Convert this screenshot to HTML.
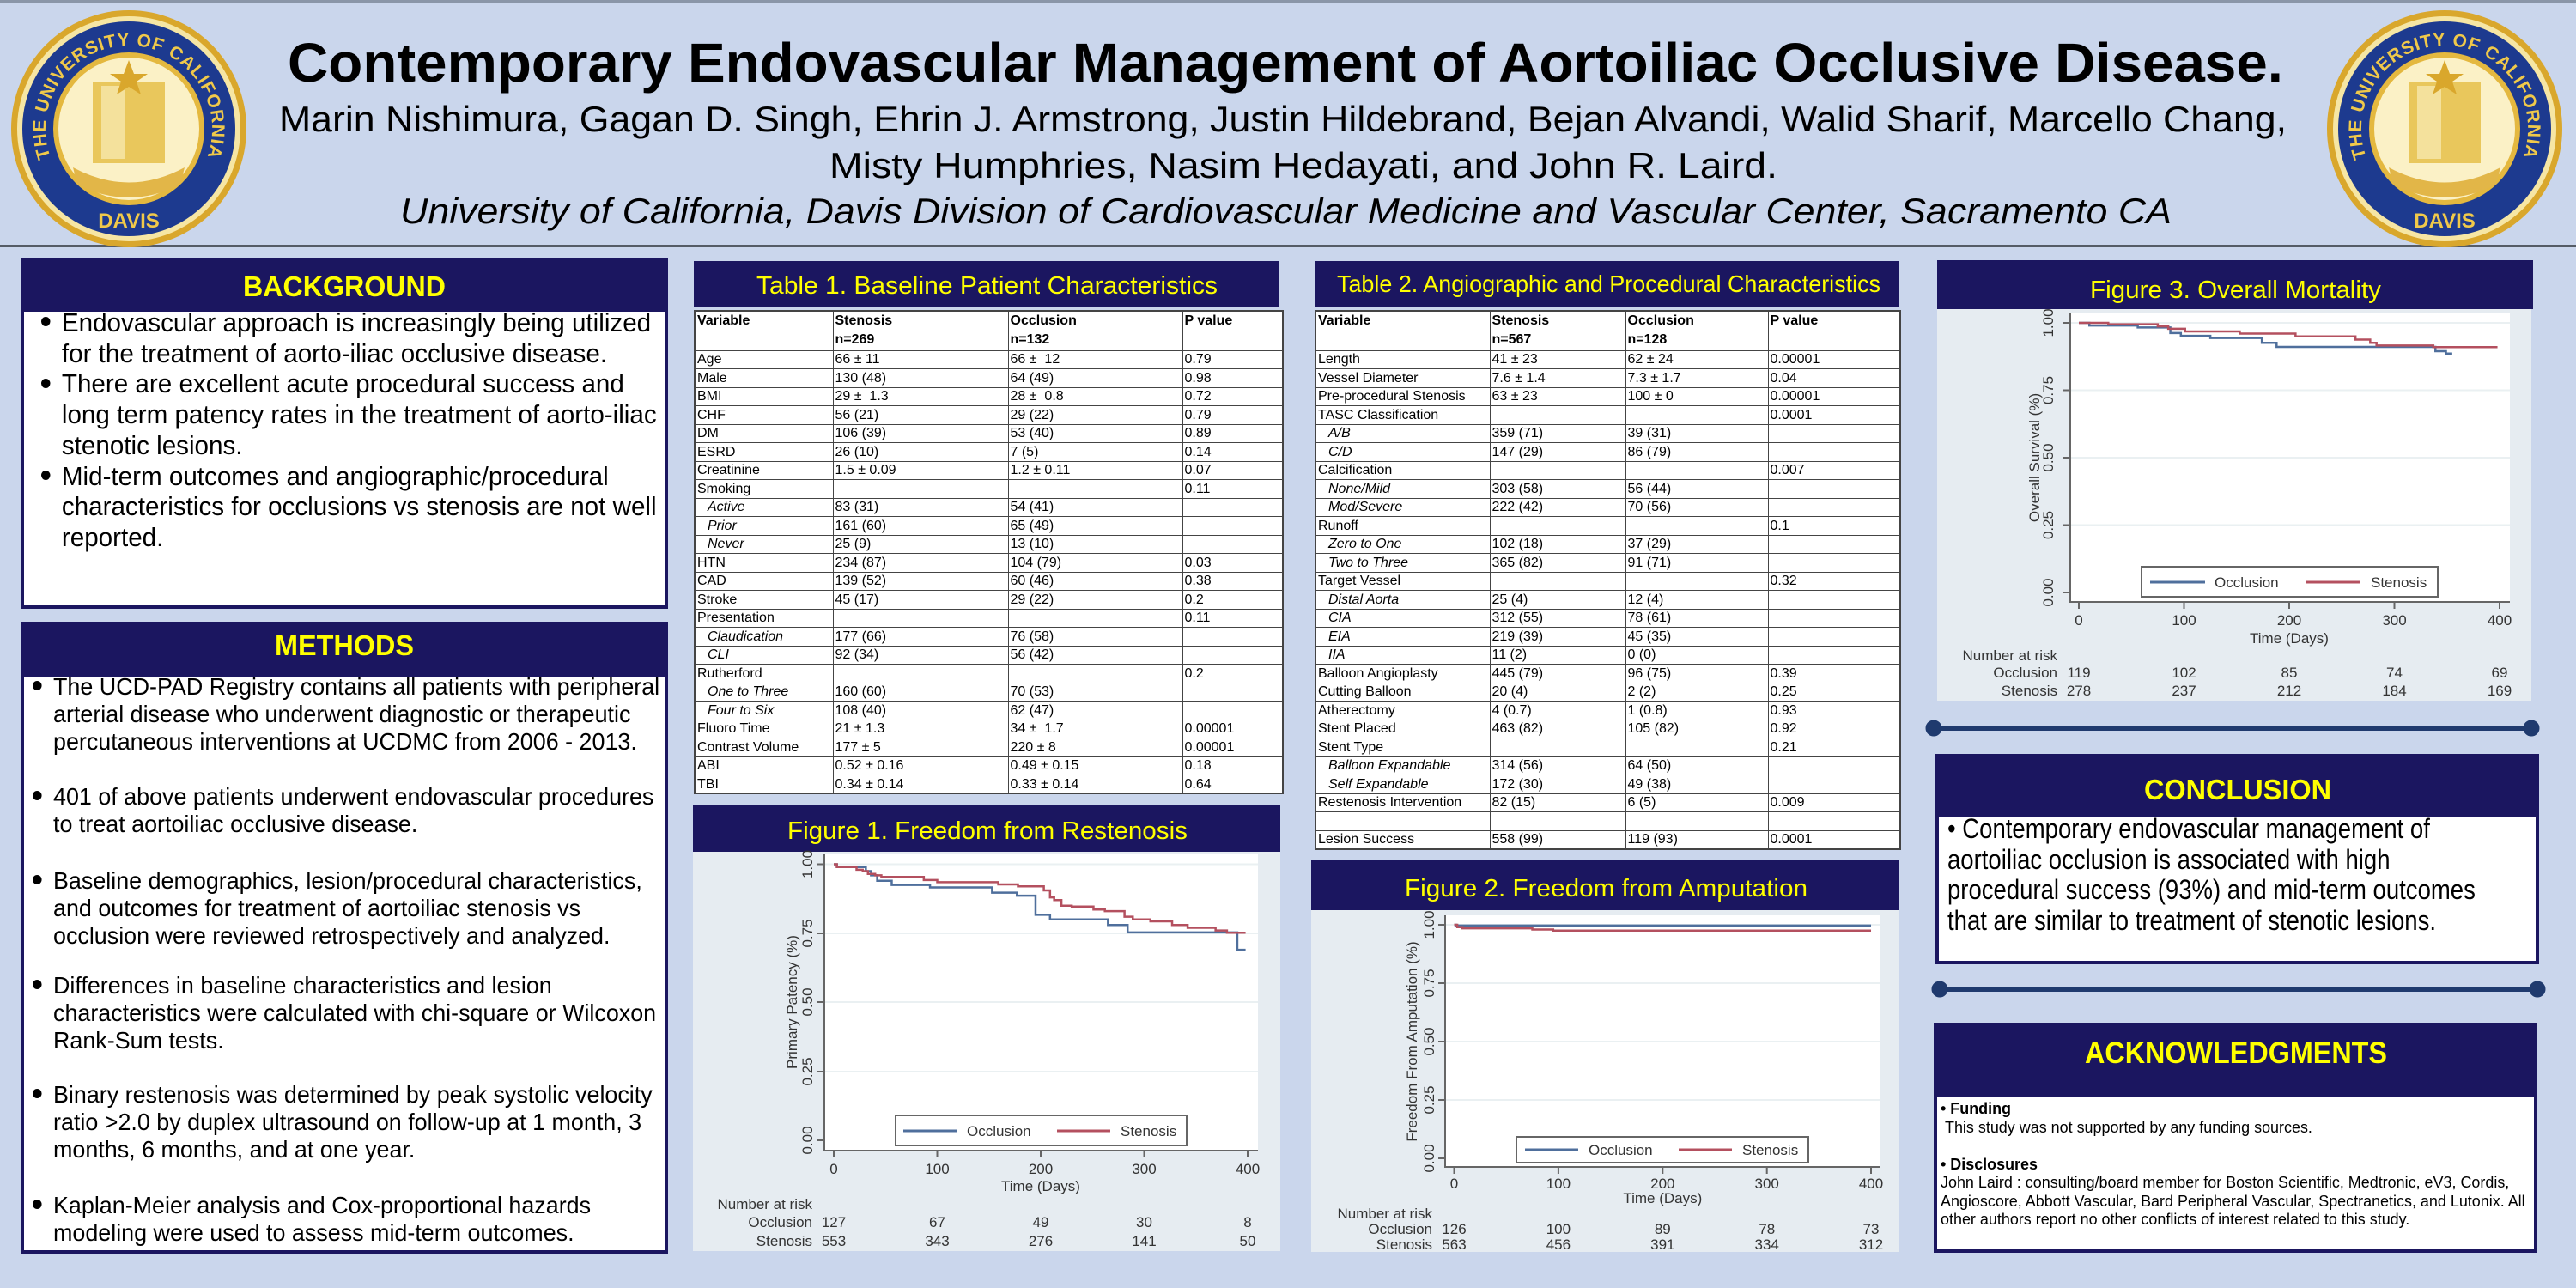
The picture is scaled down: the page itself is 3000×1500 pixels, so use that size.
<!DOCTYPE html>
<html><head><meta charset="utf-8">
<style>
*{margin:0;padding:0;box-sizing:border-box}
body{width:3000px;height:1500px;background:#cad6ec;position:relative;overflow:hidden;font-family:"Liberation Sans",Arial,sans-serif;color:#000}
.a{position:absolute}
.nv{position:absolute;background:#1b1660}
.wb{position:absolute;background:#fff;border:4px solid #1b1660}
.nar{position:absolute;white-space:nowrap;transform-origin:0 0}
.dot{display:inline-block;width:11px;height:11px;border-radius:50%;background:#000;vertical-align:middle;margin-right:14px;position:relative;top:-3px}
table{position:absolute;border-collapse:collapse;table-layout:fixed;background:#fff;font-size:16px}
td{border:1px solid #444;padding:0 2px;height:21.5px;line-height:19px;vertical-align:middle;white-space:nowrap;overflow:hidden}
tr.h td{height:46px;font-weight:bold;vertical-align:top;line-height:22px}
td.i{font-style:italic;padding-left:14px}
</style></head><body>

<div class="a" style="left:0;top:0;width:3000px;height:3px;background:#8a96a8"></div>
<div class="a" style="left:0;top:285px;width:3000px;height:3px;background:#555c66"></div>

<div class="nv" style="left:24px;top:301px;width:754px;height:58px"></div>
<div class="wb" style="left:24px;top:359px;width:754px;height:350px"></div>
<div class="nv" style="left:24px;top:724px;width:754px;height:60px"></div>
<div class="wb" style="left:24px;top:784px;width:754px;height:676px"></div>

<div class="nv" style="left:808px;top:304px;width:682px;height:53px"></div>
<div class="nv" style="left:807px;top:937px;width:684px;height:55px"></div>
<div class="a" style="left:807px;top:992px;width:684px;height:465px;background:#e6ecf1"></div>

<div class="nv" style="left:1531px;top:304px;width:681px;height:53px"></div>
<div class="nv" style="left:1527px;top:1002px;width:685px;height:58px"></div>
<div class="a" style="left:1527px;top:1060px;width:685px;height:398px;background:#e6ecf1"></div>

<div class="nv" style="left:2256px;top:303px;width:694px;height:57px"></div>
<div class="a" style="left:2256px;top:360px;width:692px;height:456px;background:#e6ecf1"></div>

<div class="nv" style="left:2254px;top:878px;width:703px;height:72px"></div>
<div class="wb" style="left:2254px;top:948px;width:703px;height:175px"></div>
<div class="nv" style="left:2252px;top:1191px;width:703px;height:83px"></div>
<div class="wb" style="left:2252px;top:1274px;width:703px;height:185px"></div>

<div class="nar" style="left:48px;top:358px;font-size:31px;line-height:35.7px;transform:scaleX(0.955)">
<span class="dot"></span>Endovascular approach is increasingly being utilized<br>
<span style="padding-left:25px">for the treatment of aorto-iliac occlusive disease.</span><br>
<span class="dot"></span>There are excellent acute procedural success and<br>
<span style="padding-left:25px">long term patency rates in the treatment of aorto-iliac</span><br>
<span style="padding-left:25px">stenotic lesions.</span><br>
<span class="dot"></span>Mid-term outcomes and angiographic/procedural<br>
<span style="padding-left:25px">characteristics for occlusions vs stenosis are not well</span><br>
<span style="padding-left:25px">reported.</span>
</div>

<div class="nar" style="left:38px;top:784px;font-size:28px;line-height:32px;transform:scaleX(0.96)"><span class="dot"></span>The UCD-PAD Registry contains all patients with peripheral<br><span style="padding-left:25px">arterial disease who underwent diagnostic or therapeutic</span><br><span style="padding-left:25px">percutaneous interventions at UCDMC from 2006 - 2013.</span></div>
<div class="nar" style="left:38px;top:912px;font-size:28px;line-height:32px;transform:scaleX(0.96)"><span class="dot"></span>401 of above patients underwent endovascular procedures<br><span style="padding-left:25px">to treat aortoiliac occlusive disease.</span></div>
<div class="nar" style="left:38px;top:1010px;font-size:28px;line-height:32px;transform:scaleX(0.96)"><span class="dot"></span>Baseline demographics, lesion/procedural characteristics,<br><span style="padding-left:25px">and outcomes for treatment of aortoiliac stenosis vs</span><br><span style="padding-left:25px">occlusion were reviewed retrospectively and analyzed.</span></div>
<div class="nar" style="left:38px;top:1132px;font-size:28px;line-height:32px;transform:scaleX(0.96)"><span class="dot"></span>Differences in baseline characteristics and lesion<br><span style="padding-left:25px">characteristics were calculated with chi-square or Wilcoxon</span><br><span style="padding-left:25px">Rank-Sum tests.</span></div>
<div class="nar" style="left:38px;top:1259px;font-size:28px;line-height:32px;transform:scaleX(0.96)"><span class="dot"></span>Binary restenosis was determined by peak systolic velocity<br><span style="padding-left:25px">ratio &gt;2.0 by duplex ultrasound on follow-up at 1 month, 3</span><br><span style="padding-left:25px">months, 6 months, and at one year.</span></div>
<div class="nar" style="left:38px;top:1388px;font-size:28px;line-height:32px;transform:scaleX(0.96)"><span class="dot"></span>Kaplan-Meier analysis and Cox-proportional hazards<br><span style="padding-left:25px">modeling were used to assess mid-term outcomes.</span></div>

<div class="nar" style="left:2268px;top:948px;font-size:32px;line-height:35.7px;transform:scaleX(0.86)">• Contemporary endovascular management of<br>aortoiliac occlusion is associated with high<br>procedural success (93%) and mid-term outcomes<br>that are similar to treatment of stenotic lesions.</div>

<div class="nar" style="left:2260px;top:1280px;font-size:18.5px;line-height:21.5px;transform:scaleX(0.97)"><b>• Funding</b><br>&nbsp;This study was not supported by any funding sources.<br><br><b>• Disclosures</b><br>John Laird : consulting/board member for Boston Scientific, Medtronic, eV3, Cordis,<br>Angioscore, Abbott Vascular, Bard Peripheral Vascular, Spectranetics, and Lutonix. All<br>other authors report no other conflicts of interest related to this study.</div>

<table style="left:808px;top:361px;width:685px;border:2px solid #444">
<colgroup><col style="width:161px"><col style="width:204px"><col style="width:203px"><col style="width:117px"></colgroup>
<tr class="h"><td>Variable</td><td>Stenosis<br>n=269</td><td>Occlusion<br>n=132</td><td>P value</td></tr>
<tr><td>Age</td><td>66 ± 11</td><td>66 ±&nbsp; 12</td><td>0.79</td></tr>
<tr><td>Male</td><td>130 (48)</td><td>64 (49)</td><td>0.98</td></tr>
<tr><td>BMI</td><td>29 ±&nbsp; 1.3</td><td>28 ±&nbsp; 0.8</td><td>0.72</td></tr>
<tr><td>CHF</td><td>56 (21)</td><td>29 (22)</td><td>0.79</td></tr>
<tr><td>DM</td><td>106 (39)</td><td>53 (40)</td><td>0.89</td></tr>
<tr><td>ESRD</td><td>26 (10)</td><td>7 (5)</td><td>0.14</td></tr>
<tr><td>Creatinine</td><td>1.5 ± 0.09</td><td>1.2 ± 0.11</td><td>0.07</td></tr>
<tr><td>Smoking</td><td></td><td></td><td>0.11</td></tr>
<tr><td class="i">Active</td><td>83 (31)</td><td>54 (41)</td><td></td></tr>
<tr><td class="i">Prior</td><td>161 (60)</td><td>65 (49)</td><td></td></tr>
<tr><td class="i">Never</td><td>25 (9)</td><td>13 (10)</td><td></td></tr>
<tr><td>HTN</td><td>234 (87)</td><td>104 (79)</td><td>0.03</td></tr>
<tr><td>CAD</td><td>139 (52)</td><td>60 (46)</td><td>0.38</td></tr>
<tr><td>Stroke</td><td>45 (17)</td><td>29 (22)</td><td>0.2</td></tr>
<tr><td>Presentation</td><td></td><td></td><td>0.11</td></tr>
<tr><td class="i">Claudication</td><td>177 (66)</td><td>76 (58)</td><td></td></tr>
<tr><td class="i">CLI</td><td>92 (34)</td><td>56 (42)</td><td></td></tr>
<tr><td>Rutherford</td><td></td><td></td><td>0.2</td></tr>
<tr><td class="i">One to Three</td><td>160 (60)</td><td>70 (53)</td><td></td></tr>
<tr><td class="i">Four to Six</td><td>108 (40)</td><td>62 (47)</td><td></td></tr>
<tr><td>Fluoro Time</td><td>21 ± 1.3</td><td>34 ±&nbsp; 1.7</td><td>0.00001</td></tr>
<tr><td>Contrast Volume</td><td>177 ± 5</td><td>220 ± 8</td><td>0.00001</td></tr>
<tr><td>ABI</td><td>0.52 ± 0.16</td><td>0.49 ± 0.15</td><td>0.18</td></tr>
<tr><td>TBI</td><td>0.34 ± 0.14</td><td>0.33 ± 0.14</td><td>0.64</td></tr>
</table>

<table style="left:1531px;top:361px;width:681px;border:2px solid #444">
<colgroup><col style="width:203px"><col style="width:158px"><col style="width:166px"><col style="width:154px"></colgroup>
<tr class="h"><td>Variable</td><td>Stenosis<br>n=567</td><td>Occlusion<br>n=128</td><td>P value</td></tr>
<tr><td>Length</td><td>41 ± 23</td><td>62 ± 24</td><td>0.00001</td></tr>
<tr><td>Vessel Diameter</td><td>7.6 ± 1.4</td><td>7.3 ± 1.7</td><td>0.04</td></tr>
<tr><td>Pre-procedural Stenosis</td><td>63 ± 23</td><td>100 ± 0</td><td>0.00001</td></tr>
<tr><td>TASC Classification</td><td></td><td></td><td>0.0001</td></tr>
<tr><td class="i">A/B</td><td>359 (71)</td><td>39 (31)</td><td></td></tr>
<tr><td class="i">C/D</td><td>147 (29)</td><td>86 (79)</td><td></td></tr>
<tr><td>Calcification</td><td></td><td></td><td>0.007</td></tr>
<tr><td class="i">None/Mild</td><td>303 (58)</td><td>56 (44)</td><td></td></tr>
<tr><td class="i">Mod/Severe</td><td>222 (42)</td><td>70 (56)</td><td></td></tr>
<tr><td>Runoff</td><td></td><td></td><td>0.1</td></tr>
<tr><td class="i">Zero to One</td><td>102 (18)</td><td>37 (29)</td><td></td></tr>
<tr><td class="i">Two to Three</td><td>365 (82)</td><td>91 (71)</td><td></td></tr>
<tr><td>Target Vessel</td><td></td><td></td><td>0.32</td></tr>
<tr><td class="i">Distal Aorta</td><td>25 (4)</td><td>12 (4)</td><td></td></tr>
<tr><td class="i">CIA</td><td>312 (55)</td><td>78 (61)</td><td></td></tr>
<tr><td class="i">EIA</td><td>219 (39)</td><td>45 (35)</td><td></td></tr>
<tr><td class="i">IIA</td><td>11 (2)</td><td>0 (0)</td><td></td></tr>
<tr><td>Balloon Angioplasty</td><td>445 (79)</td><td>96 (75)</td><td>0.39</td></tr>
<tr><td>Cutting Balloon</td><td>20 (4)</td><td>2 (2)</td><td>0.25</td></tr>
<tr><td>Atherectomy</td><td>4 (0.7)</td><td>1 (0.8)</td><td>0.93</td></tr>
<tr><td>Stent Placed</td><td>463 (82)</td><td>105 (82)</td><td>0.92</td></tr>
<tr><td>Stent Type</td><td></td><td></td><td>0.21</td></tr>
<tr><td class="i">Balloon Expandable</td><td>314 (56)</td><td>64 (50)</td><td></td></tr>
<tr><td class="i">Self Expandable</td><td>172 (30)</td><td>49 (38)</td><td></td></tr>
<tr><td>Restenosis Intervention</td><td>82 (15)</td><td>6 (5)</td><td>0.009</td></tr>
<tr><td></td><td></td><td></td><td></td></tr>
<tr><td>Lesion Success</td><td>558 (99)</td><td>119 (93)</td><td>0.0001</td></tr>
</table>

<svg class="a" style="left:0;top:0" width="3000" height="1500" viewBox="0 0 3000 1500" font-family="Liberation Sans, Arial, sans-serif">
<defs>
<path id="arcL" d="M 81.4 218.6 A 97 97 0 1 1 218.6 218.6"/>
<path id="arcR" d="M 2778.4 218.6 A 97 97 0 1 1 2915.6 218.6"/>
</defs>
<g>
<ellipse cx="150" cy="150" rx="137" ry="138" fill="#d9a72c"/>
<ellipse cx="150" cy="150" rx="130" ry="131" fill="#f6e6a4"/>
<ellipse cx="150" cy="150" rx="124" ry="125" fill="#1d3a8f"/>
<ellipse cx="150" cy="150" rx="88" ry="89" fill="#e4b83f"/>
<ellipse cx="150" cy="150" rx="82" ry="83" fill="#fbf1c6"/>
<rect x="108" y="95" width="84" height="95" fill="#e9c75c"/>
<rect x="118" y="100" width="28" height="85" fill="#fbf1c6" opacity=".6"/>
<path d="M85 195 Q150 230 215 195 L210 215 Q150 245 90 215Z" fill="#e2b648"/>
<polygon points="150,70 156,86 172,86 159,95 164,110 150,101 136,110 141,95 128,86 144,86" fill="#d9a72c"/>
<text font-size="21" font-weight="bold" fill="#f0c94a" letter-spacing="1"><textPath href="#arcL" startOffset="50%" text-anchor="middle">THE UNIVERSITY OF CALIFORNIA</textPath></text>
<text x="150" y="265" font-size="24" font-weight="bold" fill="#f0c94a" text-anchor="middle">DAVIS</text>
</g>
<g>
<ellipse cx="2847" cy="150" rx="137" ry="138" fill="#d9a72c"/>
<ellipse cx="2847" cy="150" rx="130" ry="131" fill="#f6e6a4"/>
<ellipse cx="2847" cy="150" rx="124" ry="125" fill="#1d3a8f"/>
<ellipse cx="2847" cy="150" rx="88" ry="89" fill="#e4b83f"/>
<ellipse cx="2847" cy="150" rx="82" ry="83" fill="#fbf1c6"/>
<rect x="2805" y="95" width="84" height="95" fill="#e9c75c"/>
<rect x="2815" y="100" width="28" height="85" fill="#fbf1c6" opacity=".6"/>
<path d="M2782 195 Q2847 230 2912 195 L2907 215 Q2847 245 2787 215Z" fill="#e2b648"/>
<polygon points="2847,70 2853,86 2869,86 2856,95 2861,110 2847,101 2833,110 2838,95 2825,86 2841,86" fill="#d9a72c"/>
<text font-size="21" font-weight="bold" fill="#f0c94a" letter-spacing="1"><textPath href="#arcR" startOffset="50%" text-anchor="middle">THE UNIVERSITY OF CALIFORNIA</textPath></text>
<text x="2847" y="265" font-size="24" font-weight="bold" fill="#f0c94a" text-anchor="middle">DAVIS</text>
</g>

<text x="335" y="95" font-size="64" font-weight="bold" textLength="2324" lengthAdjust="spacingAndGlyphs">Contemporary Endovascular Management of Aortoiliac Occlusive Disease.</text>
<text x="325" y="153" font-size="42" textLength="2338" lengthAdjust="spacingAndGlyphs">Marin Nishimura, Gagan D. Singh, Ehrin J. Armstrong, Justin Hildebrand, Bejan Alvandi, Walid Sharif, Marcello Chang,</text>
<text x="966" y="207" font-size="42" textLength="1104" lengthAdjust="spacingAndGlyphs">Misty Humphries, Nasim Hedayati, and John R. Laird.</text>
<text x="466" y="260" font-size="42" font-style="italic" textLength="2063" lengthAdjust="spacingAndGlyphs">University of California, Davis Division of Cardiovascular Medicine and Vascular Center, Sacramento CA</text>

<g fill="#ffff00">
<text x="283" y="345" font-size="33" font-weight="bold" textLength="236" lengthAdjust="spacingAndGlyphs">BACKGROUND</text>
<text x="320" y="763" font-size="33" font-weight="bold" textLength="162" lengthAdjust="spacingAndGlyphs">METHODS</text>
<text x="881" y="342" font-size="29" textLength="537" lengthAdjust="spacingAndGlyphs">Table 1. Baseline Patient Characteristics</text>
<text x="1557" y="340" font-size="28" textLength="633" lengthAdjust="spacingAndGlyphs">Table 2. Angiographic and Procedural Characteristics</text>
<text x="917" y="977" font-size="29" textLength="466" lengthAdjust="spacingAndGlyphs">Figure 1. Freedom from Restenosis</text>
<text x="1636" y="1044" font-size="29" textLength="469" lengthAdjust="spacingAndGlyphs">Figure 2. Freedom from Amputation</text>
<text x="2434" y="347" font-size="29" textLength="339" lengthAdjust="spacingAndGlyphs">Figure 3. Overall Mortality</text>
<text x="2497" y="931" font-size="33" font-weight="bold" textLength="218" lengthAdjust="spacingAndGlyphs">CONCLUSION</text>
<text x="2428" y="1238" font-size="35" font-weight="bold" textLength="352" lengthAdjust="spacingAndGlyphs">ACKNOWLEDGMENTS</text>
</g>

<g fill="#1f3a6e" stroke="#1f3a6e">
<line x1="2252" y1="848" x2="2948" y2="848" stroke-width="6"/>
<circle cx="2252" cy="848" r="9"/><circle cx="2948" cy="848" r="9"/>
<line x1="2259" y1="1152" x2="2955" y2="1152" stroke-width="6"/>
<circle cx="2259" cy="1152" r="9"/><circle cx="2955" cy="1152" r="9"/>
</g>

<!-- FIGURE 1 -->
<g font-size="17" fill="#333">
<rect x="960" y="995" width="505" height="345" fill="#fff"/>
<g stroke="#eaf0f2" stroke-width="2">
<line x1="960" y1="1006.5" x2="1465" y2="1006.5"/><line x1="960" y1="1087" x2="1465" y2="1087"/><line x1="960" y1="1167" x2="1465" y2="1167"/><line x1="960" y1="1248" x2="1465" y2="1248"/>
</g>
<g stroke="#666" stroke-width="2">
<line x1="960" y1="995" x2="960" y2="1341"/><line x1="959" y1="1340" x2="1465" y2="1340"/>
<line x1="952" y1="1006.5" x2="960" y2="1006.5"/><line x1="952" y1="1087" x2="960" y2="1087"/><line x1="952" y1="1167" x2="960" y2="1167"/><line x1="952" y1="1248" x2="960" y2="1248"/><line x1="952" y1="1328" x2="960" y2="1328"/>
<line x1="971" y1="1340" x2="971" y2="1348"/><line x1="1091.5" y1="1340" x2="1091.5" y2="1348"/><line x1="1212" y1="1340" x2="1212" y2="1348"/><line x1="1332.5" y1="1340" x2="1332.5" y2="1348"/><line x1="1453" y1="1340" x2="1453" y2="1348"/>
</g>
<g text-anchor="middle">
<text transform="translate(946,1006.5) rotate(-90)">1.00</text><text transform="translate(946,1087) rotate(-90)">0.75</text><text transform="translate(946,1167) rotate(-90)">0.50</text><text transform="translate(946,1248) rotate(-90)">0.25</text><text transform="translate(946,1328) rotate(-90)">0.00</text>
<text transform="translate(928,1167) rotate(-90)">Primary Patency (%)</text>
<text x="971" y="1367">0</text><text x="1091.5" y="1367">100</text><text x="1212" y="1367">200</text><text x="1332.5" y="1367">300</text><text x="1453" y="1367">400</text>
<text x="1212" y="1387">Time (Days)</text>
<text x="971" y="1429">127</text><text x="1091.5" y="1429">67</text><text x="1212" y="1429">49</text><text x="1332.5" y="1429">30</text><text x="1453" y="1429">8</text>
<text x="971" y="1451">553</text><text x="1091.5" y="1451">343</text><text x="1212" y="1451">276</text><text x="1332.5" y="1451">141</text><text x="1453" y="1451">50</text>
</g>
<g text-anchor="end"><text x="946" y="1408">Number at risk</text><text x="946" y="1429">Occlusion</text><text x="946" y="1451">Stenosis</text></g>
<g transform="translate(971,1328) scale(1.205,-321.5)" fill="none" stroke-width="2.5">
<path vector-effect="non-scaling-stroke" stroke="#4f6f9c" d="M0 1 H3 V0.99 H31 V0.975 H36 V0.96 H42 V0.94 H56 V0.925 H93 V0.916 H153 V0.897 H177 V0.886 H195 V0.817 H209 V0.8 H265 V0.78 H284 V0.753 H390 V0.69 H398"/>
<path vector-effect="non-scaling-stroke" stroke="#b4505f" d="M0 1 H3 V0.99 H22 V0.98 H28 V0.975 H33 V0.965 H40 V0.96 H46 V0.954 H87 V0.943 H100 V0.935 H159 V0.927 H178 V0.92 H203 V0.905 H209 V0.88 H213 V0.87 H220 V0.85 H230 V0.847 H251 V0.836 H262 V0.83 H281 V0.81 H289 V0.8 H306 V0.793 H327 V0.78 H342 V0.77 H369 V0.76 H380 V0.752 H398"/>
</g>
<rect x="1043" y="1299" width="339" height="35" fill="#fff" stroke="#666" stroke-width="2"/>
<line x1="1052" y1="1317" x2="1114" y2="1317" stroke="#4f6f9c" stroke-width="3"/>
<text x="1126" y="1323">Occlusion</text>
<line x1="1231" y1="1317" x2="1293" y2="1317" stroke="#b4505f" stroke-width="3"/>
<text x="1305" y="1323">Stenosis</text>
</g>

<!-- FIGURE 2 -->
<g font-size="17" fill="#333">
<rect x="1683" y="1066" width="506" height="293" fill="#fff"/>
<g stroke="#eaf0f2" stroke-width="2">
<line x1="1683" y1="1077" x2="2189" y2="1077"/><line x1="1683" y1="1145" x2="2189" y2="1145"/><line x1="1683" y1="1213" x2="2189" y2="1213"/><line x1="1683" y1="1281" x2="2189" y2="1281"/>
</g>
<g stroke="#666" stroke-width="2">
<line x1="1683" y1="1066" x2="1683" y2="1360"/><line x1="1682" y1="1359" x2="2189" y2="1359"/>
<line x1="1675" y1="1077" x2="1683" y2="1077"/><line x1="1675" y1="1145" x2="1683" y2="1145"/><line x1="1675" y1="1213" x2="1683" y2="1213"/><line x1="1675" y1="1281" x2="1683" y2="1281"/><line x1="1675" y1="1349" x2="1683" y2="1349"/>
<line x1="1693.5" y1="1359" x2="1693.5" y2="1367"/><line x1="1814.9" y1="1359" x2="1814.9" y2="1367"/><line x1="1936.3" y1="1359" x2="1936.3" y2="1367"/><line x1="2057.7" y1="1359" x2="2057.7" y2="1367"/><line x1="2179" y1="1359" x2="2179" y2="1367"/>
</g>
<g text-anchor="middle">
<text transform="translate(1670,1077) rotate(-90)">1.00</text><text transform="translate(1670,1145) rotate(-90)">0.75</text><text transform="translate(1670,1213) rotate(-90)">0.50</text><text transform="translate(1670,1281) rotate(-90)">0.25</text><text transform="translate(1670,1349) rotate(-90)">0.00</text>
<text transform="translate(1650,1213) rotate(-90)">Freedom From Amputation (%)</text>
<text x="1693.5" y="1384">0</text><text x="1814.9" y="1384">100</text><text x="1936.3" y="1384">200</text><text x="2057.7" y="1384">300</text><text x="2179" y="1384">400</text>
<text x="1936.3" y="1401">Time (Days)</text>
<text x="1693.5" y="1437">126</text><text x="1814.9" y="1437">100</text><text x="1936.3" y="1437">89</text><text x="2057.7" y="1437">78</text><text x="2179" y="1437">73</text>
<text x="1693.5" y="1455">563</text><text x="1814.9" y="1455">456</text><text x="1936.3" y="1455">391</text><text x="2057.7" y="1455">334</text><text x="2179" y="1455">312</text>
</g>
<g text-anchor="end"><text x="1668" y="1419">Number at risk</text><text x="1668" y="1437">Occlusion</text><text x="1668" y="1455">Stenosis</text></g>
<g transform="translate(1693.5,1349) scale(1.2138,-272)" fill="none">
<path vector-effect="non-scaling-stroke" stroke="#4f6f9c" stroke-width="2.5" d="M0 1 H2 V0.997 H400"/>
<path vector-effect="non-scaling-stroke" stroke="#b4505f" stroke-width="2.5" d="M0 1 H3 V0.99 H8 V0.985 H75 V0.98 H95 V0.975 H400"/>
</g>
<rect x="1766" y="1324" width="340" height="30" fill="#fff" stroke="#666" stroke-width="2"/>
<line x1="1776" y1="1339" x2="1838" y2="1339" stroke="#4f6f9c" stroke-width="3"/>
<text x="1850" y="1345">Occlusion</text>
<line x1="1955" y1="1339" x2="2017" y2="1339" stroke="#b4505f" stroke-width="3"/>
<text x="2029" y="1345">Stenosis</text>
</g>

<!-- FIGURE 3 -->
<g font-size="17" fill="#333">
<rect x="2411" y="365" width="512" height="336" fill="#fff"/>
<g stroke="#eaf0f2" stroke-width="2">
<line x1="2411" y1="376" x2="2923" y2="376"/><line x1="2411" y1="454.5" x2="2923" y2="454.5"/><line x1="2411" y1="533" x2="2923" y2="533"/><line x1="2411" y1="611.5" x2="2923" y2="611.5"/>
</g>
<g stroke="#666" stroke-width="2">
<line x1="2411" y1="365" x2="2411" y2="702"/><line x1="2410" y1="701" x2="2923" y2="701"/>
<line x1="2403" y1="376" x2="2411" y2="376"/><line x1="2403" y1="454.5" x2="2411" y2="454.5"/><line x1="2403" y1="533" x2="2411" y2="533"/><line x1="2403" y1="611.5" x2="2411" y2="611.5"/><line x1="2403" y1="690" x2="2411" y2="690"/>
<line x1="2421" y1="701" x2="2421" y2="709"/><line x1="2543.5" y1="701" x2="2543.5" y2="709"/><line x1="2666" y1="701" x2="2666" y2="709"/><line x1="2788.5" y1="701" x2="2788.5" y2="709"/><line x1="2911" y1="701" x2="2911" y2="709"/>
</g>
<g text-anchor="middle">
<text transform="translate(2391,376) rotate(-90)">1.00</text><text transform="translate(2391,454.5) rotate(-90)">0.75</text><text transform="translate(2391,533) rotate(-90)">0.50</text><text transform="translate(2391,611.5) rotate(-90)">0.25</text><text transform="translate(2391,690) rotate(-90)">0.00</text>
<text transform="translate(2375,533) rotate(-90)">Overall Survival (%)</text>
<text x="2421" y="728">0</text><text x="2543.5" y="728">100</text><text x="2666" y="728">200</text><text x="2788.5" y="728">300</text><text x="2911" y="728">400</text>
<text x="2666" y="749">Time (Days)</text>
<text x="2421" y="789">119</text><text x="2543.5" y="789">102</text><text x="2666" y="789">85</text><text x="2788.5" y="789">74</text><text x="2911" y="789">69</text>
<text x="2421" y="810">278</text><text x="2543.5" y="810">237</text><text x="2666" y="810">212</text><text x="2788.5" y="810">184</text><text x="2911" y="810">169</text>
</g>
<g text-anchor="end"><text x="2396" y="769">Number at risk</text><text x="2396" y="789">Occlusion</text><text x="2396" y="810">Stenosis</text></g>
<g transform="translate(2421,690) scale(1.225,-314)" fill="none">
<path vector-effect="non-scaling-stroke" stroke="#4f6f9c" stroke-width="2.5" d="M0 1 H10 V0.99 H56 V0.983 H87 V0.962 H97 V0.952 H125 V0.944 H174 V0.926 H188 V0.911 H339 V0.895 H349 V0.886 H355"/>
<path vector-effect="non-scaling-stroke" stroke="#b4505f" stroke-width="2.5" d="M0 1 H28 V0.995 H75 V0.987 H85 V0.978 H101 V0.968 H153 V0.96 H206 V0.95 H263 V0.938 H277 V0.926 H283 V0.916 H337 V0.91 H398"/>
</g>
<rect x="2494" y="660" width="345" height="35" fill="#fff" stroke="#666" stroke-width="2"/>
<line x1="2504" y1="678" x2="2568" y2="678" stroke="#4f6f9c" stroke-width="3"/>
<text x="2579" y="684">Occlusion</text>
<line x1="2685" y1="678" x2="2749" y2="678" stroke="#b4505f" stroke-width="3"/>
<text x="2761" y="684">Stenosis</text>
</g>
</svg>
</body></html>
